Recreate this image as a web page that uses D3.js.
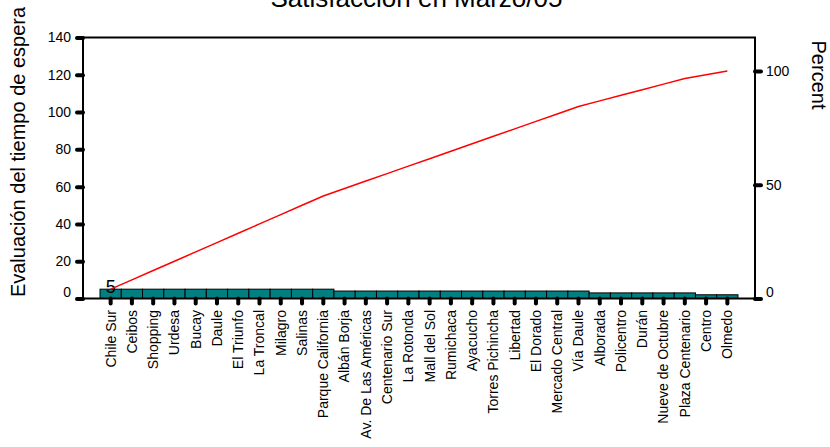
<!DOCTYPE html>
<html>
<head>
<meta charset="utf-8">
<script src="https://cdn.jsdelivr.net/npm/d3@7"></script>
<style>
  html, body { margin: 0; padding: 0; background: #fff; }
  svg { display: block; font-family: "Liberation Sans", Arial, sans-serif; }
</style>
</head>
<body>
<svg id="chart" width="830" height="447"></svg>
<script>
const title = "Satisfacción en Marzo/05";
const yTitle = "Evaluación del tiempo de espera";
const y2Title = "Percent";

const categories = [
  "Chile Sur", "Ceibos", "Shopping", "Urdesa", "Bucay", "Daule", "El Triunfo",
  "La Troncal", "Milagro", "Salinas", "Parque California", "Albán Borja",
  "Av. De Las Américas", "Centenario Sur", "La Rotonda", "Mall del Sol",
  "Rumichaca", "Ayacucho", "Torres Pichincha", "Libertad", "El Dorado",
  "Mercado Central", "Vía Daule", "Alborada", "Policentro", "Durán",
  "Nueve de Octubre", "Plaza Centenario", "Centro", "Olmedo"
];
const values = [
  5, 5, 5, 5, 5, 5, 5, 5, 5, 5, 5,
  4, 4, 4, 4, 4, 4, 4, 4, 4, 4, 4, 4,
  3, 3, 3, 3, 3,
  2, 2
];
const leftTicks = [0, 20, 40, 60, 80, 100, 120, 140];
const rightTicks = [0, 50, 100];
const labelledBars = ["Chile Sur"];

const svg = d3.select("#chart");
const L = 83, R = 755, T = 37.5, B = 298.5;

const total = d3.sum(values);
let run = 0;
const cumulative = values.map(v => (run += v));

const x = d3.scaleBand().domain(categories).range([L, R]).paddingInner(0).paddingOuter(0.8);
const y = d3.scaleLinear().domain([0, 140]).range([B, T]);
const yPct = d3.scaleLinear().domain([0, 100]).range([B, y(total)]);

// bars
svg.append("g").selectAll("rect").data(categories).join("rect")
  .attr("x", d => x(d))
  .attr("y", (d, i) => y(values[i]))
  .attr("width", x.bandwidth())
  .attr("height", (d, i) => B - y(values[i]))
  .attr("fill", "#008080")
  .attr("stroke", "#000")
  .attr("stroke-width", 1);

// bar label
svg.append("g").selectAll("text").data(labelledBars).join("text")
  .attr("x", d => x(d) + x.bandwidth() / 2)
  .attr("y", d => y(values[categories.indexOf(d)]) + 4)
  .attr("text-anchor", "middle")
  .attr("font-size", 18)
  .attr("fill", "#000")
  .text(d => values[categories.indexOf(d)]);

// cumulative line
const line = d3.line()
  .x((d, i) => x(categories[i]) + x.bandwidth() / 2)
  .y(d => y(d));
svg.append("path").datum(cumulative)
  .attr("d", line)
  .attr("fill", "none")
  .attr("stroke", "#ff0000")
  .attr("stroke-width", 1.5);

function styleAxis(g) {
  g.select(".domain").remove();
  g.selectAll(".tick line").attr("stroke", "#000").attr("stroke-width", 4).attr("stroke-linecap", "round");
  g.selectAll(".tick text").attr("fill", "#000").attr("font-size", 14).attr("font-family", "Liberation Sans, Arial, sans-serif");
}

// left axis
const gl = svg.append("g").attr("transform", `translate(${L},0)`)
  .call(d3.axisLeft(y).tickValues(leftTicks).tickSize(6).tickPadding(6).tickSizeOuter(0));
styleAxis(gl);
gl.selectAll(".tick text").filter(d => d === 0).attr("dy", "-0.15em");

// right axis
const gr = svg.append("g").attr("transform", `translate(${R},0)`)
  .call(d3.axisRight(yPct).tickValues(rightTicks).tickSize(6).tickPadding(5).tickSizeOuter(0));
styleAxis(gr);
gr.selectAll(".tick text").filter(d => d === 0).attr("dy", "-0.15em");

// bottom axis
const gb = svg.append("g").attr("transform", `translate(0,${B})`)
  .call(d3.axisBottom(x).tickSize(5).tickSizeOuter(0));
styleAxis(gb);
gb.selectAll(".tick text")
  .attr("transform", "rotate(-90)")
  .attr("x", -11.5)
  .attr("y", 0)
  .attr("dy", "0.35em")
  .style("text-anchor", "end");

// frame
svg.append("rect").attr("x", L).attr("y", T).attr("width", R - L).attr("height", B - T)
  .attr("fill", "none").attr("stroke", "#000").attr("stroke-width", 2);

// titles
svg.append("text").attr("x", 416.5).attr("y", 7).attr("text-anchor", "middle")
  .attr("font-size", 26).attr("fill", "#000").text(title);
svg.append("text").attr("transform", "translate(25,152) rotate(-90)")
  .attr("text-anchor", "middle").attr("font-size", 20).attr("fill", "#000").text(yTitle);
svg.append("text").attr("transform", "translate(811.5,75) rotate(90)")
  .attr("text-anchor", "middle").attr("font-size", 20).attr("fill", "#000").text(y2Title);
</script>
</body>
</html>
